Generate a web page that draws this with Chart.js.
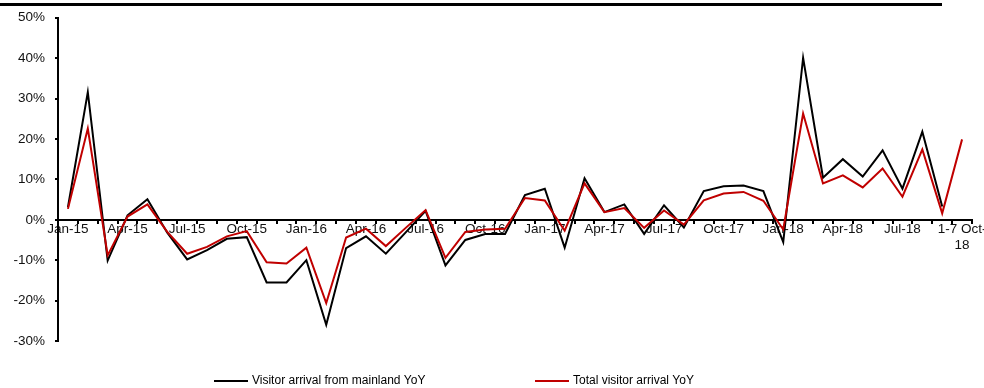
<!DOCTYPE html>
<html>
<head>
<meta charset="utf-8">
<script src="https://cdn.jsdelivr.net/npm/chart.js@4.4.0/dist/chart.umd.min.js"></script>
<style>
  html, body { margin: 0; padding: 0; background: #fff; }
  #wrap { position: relative; width: 984px; height: 388px; overflow: hidden; }
  #topRule { position: absolute; left: 0; top: 3px; width: 942px; height: 3px; background: #000; }
  canvas { display: block; }
</style>
</head>
<body>
<div id="wrap">
  <canvas id="c" width="984" height="388"></canvas>
  <div id="topRule"></div>
</div>
<script>
// Monthly year-on-year growth of visitor arrivals (%), Jan-15 to the 1-7 Oct-18 holiday week
const categories = [
  'Jan-15','Feb-15','Mar-15','Apr-15','May-15','Jun-15','Jul-15','Aug-15','Sep-15','Oct-15','Nov-15','Dec-15',
  'Jan-16','Feb-16','Mar-16','Apr-16','May-16','Jun-16','Jul-16','Aug-16','Sep-16','Oct-16','Nov-16','Dec-16',
  'Jan-17','Feb-17','Mar-17','Apr-17','May-17','Jun-17','Jul-17','Aug-17','Sep-17','Oct-17','Nov-17','Dec-17',
  'Jan-18','Feb-18','Mar-18','Apr-18','May-18','Jun-18','Jul-18','Aug-18','Sep-18','1-7 Oct-18'
];

const mainlandYoY = [
  3.1, 31.6, -10.1, 1.1, 5.1, -3.2, -9.8, -7.5, -4.7, -4.3, -15.5, -15.5,
  -10.0, -26.0, -7.0, -4.1, -8.4, -3.1, 2.2, -11.3, -5.0, -3.5, -3.5, 6.1,
  7.7, -6.9, 10.3, 1.9, 3.8, -3.5, 3.6, -1.9, 7.1, 8.3, 8.5, 7.1,
  -5.5, 40.1, 10.4, 15.0, 10.7, 17.2, 7.7, 21.8, 3.3, null
];

const totalYoY = [
  2.7, 22.6, -8.8, 0.8, 3.8, -3.0, -8.4, -6.7, -4.1, -2.8, -10.5, -10.8,
  -6.9, -20.6, -4.4, -2.2, -6.5, -2.0, 2.4, -9.4, -3.0, -2.4, -2.2, 5.4,
  4.8, -2.7, 9.0, 1.9, 2.9, -2.0, 2.3, -1.2, 4.8, 6.5, 6.9, 4.7,
  -2.4, 26.3, 9.0, 11.0, 8.0, 12.7, 5.7, 17.4, 1.6, 19.9
];

const yTicks = [-30, -20, -10, 0, 10, 20, 30, 40, 50];

const seriesNames = ['Visitor arrival from mainland YoY', 'Total visitor arrival YoY'];
const seriesColors = ['#000000', '#C00000'];

const tickFont = { family: '"Liberation Sans", Arial, sans-serif', size: 13.5, lineHeight: 1.15 };

// Legend drawn as a single row under the plot
const legendRow = {
  id: 'legendRow',
  afterDraw(chart, args, opts) {
    const ctx = chart.ctx;
    ctx.save();
    ctx.font = '12px "Liberation Sans", Arial, sans-serif';
    ctx.textBaseline = 'middle';
    ctx.textAlign = 'left';
    chart.data.datasets.forEach((ds, i) => {
      const x = opts.itemX[i];
      ctx.strokeStyle = ds.borderColor;
      ctx.lineWidth = 2;
      ctx.beginPath();
      ctx.moveTo(x, opts.lineY);
      ctx.lineTo(x + opts.sample, opts.lineY);
      ctx.stroke();
      ctx.fillStyle = '#000';
      ctx.fillText(ds.label, x + opts.sample + opts.gap, opts.textY);
    });
    ctx.restore();
  }
};

new Chart(document.getElementById('c'), {
  type: 'line',
  data: {
    labels: categories,
    datasets: [
      {
        label: seriesNames[0],
        data: mainlandYoY,
        borderColor: seriesColors[0],
        backgroundColor: seriesColors[0],
        borderWidth: 2,
        pointRadius: 0,
        tension: 0,
        order: 1
      },
      {
        label: seriesNames[1],
        data: totalYoY,
        borderColor: seriesColors[1],
        backgroundColor: seriesColors[1],
        borderWidth: 2,
        pointRadius: 0,
        tension: 0,
        order: 0
      }
    ]
  },
  options: {
    responsive: false,
    animation: false,
    events: [],
    layout: { padding: { left: 0, right: 12, top: 17, bottom: 47 } },
    plugins: {
      legend: { display: false },
      tooltip: { enabled: false },
      legendRow: { itemX: [214, 535], sample: 34, gap: 4, lineY: 381, textY: 381 }
    },
    scales: {
      x: {
        type: 'category',
        position: { y: 0 },
        offset: true,
        grid: {
          offset: true,
          drawOnChartArea: false,
          drawTicks: true,
          tickLength: 3,
          color: '#000',
          lineWidth: 2
        },
        border: { display: true, color: '#000', width: 2 },
        ticks: {
          autoSkip: false,
          maxRotation: 0,
          minRotation: 0,
          padding: -1,
          color: '#111',
          font: tickFont,
          callback: (v, i) => {
            if (i % 3 !== 0) return '';
            const s = categories[i];
            return s.length > 6 ? [s.slice(0, -2), s.slice(-2)] : s;
          }
        },
        afterFit: (scale) => { scale.paddingLeft = 0; scale.paddingRight = 0; }
      },
      y: {
        min: yTicks[0],
        max: yTicks[yTicks.length - 1],
        afterBuildTicks: (scale) => { scale.ticks = yTicks.map(v => ({ value: v })); },
        grid: {
          drawOnChartArea: false,
          drawTicks: true,
          tickLength: 3,
          color: '#000',
          lineWidth: 2
        },
        border: { display: true, color: '#000', width: 2 },
        ticks: {
          padding: 10,
          color: '#111',
          font: tickFont,
          callback: (v) => v + '%'
        },
        afterFit: (scale) => { scale.width = 58; }
      }
    }
  },
  plugins: [legendRow]
});
</script>
</body>
</html>
